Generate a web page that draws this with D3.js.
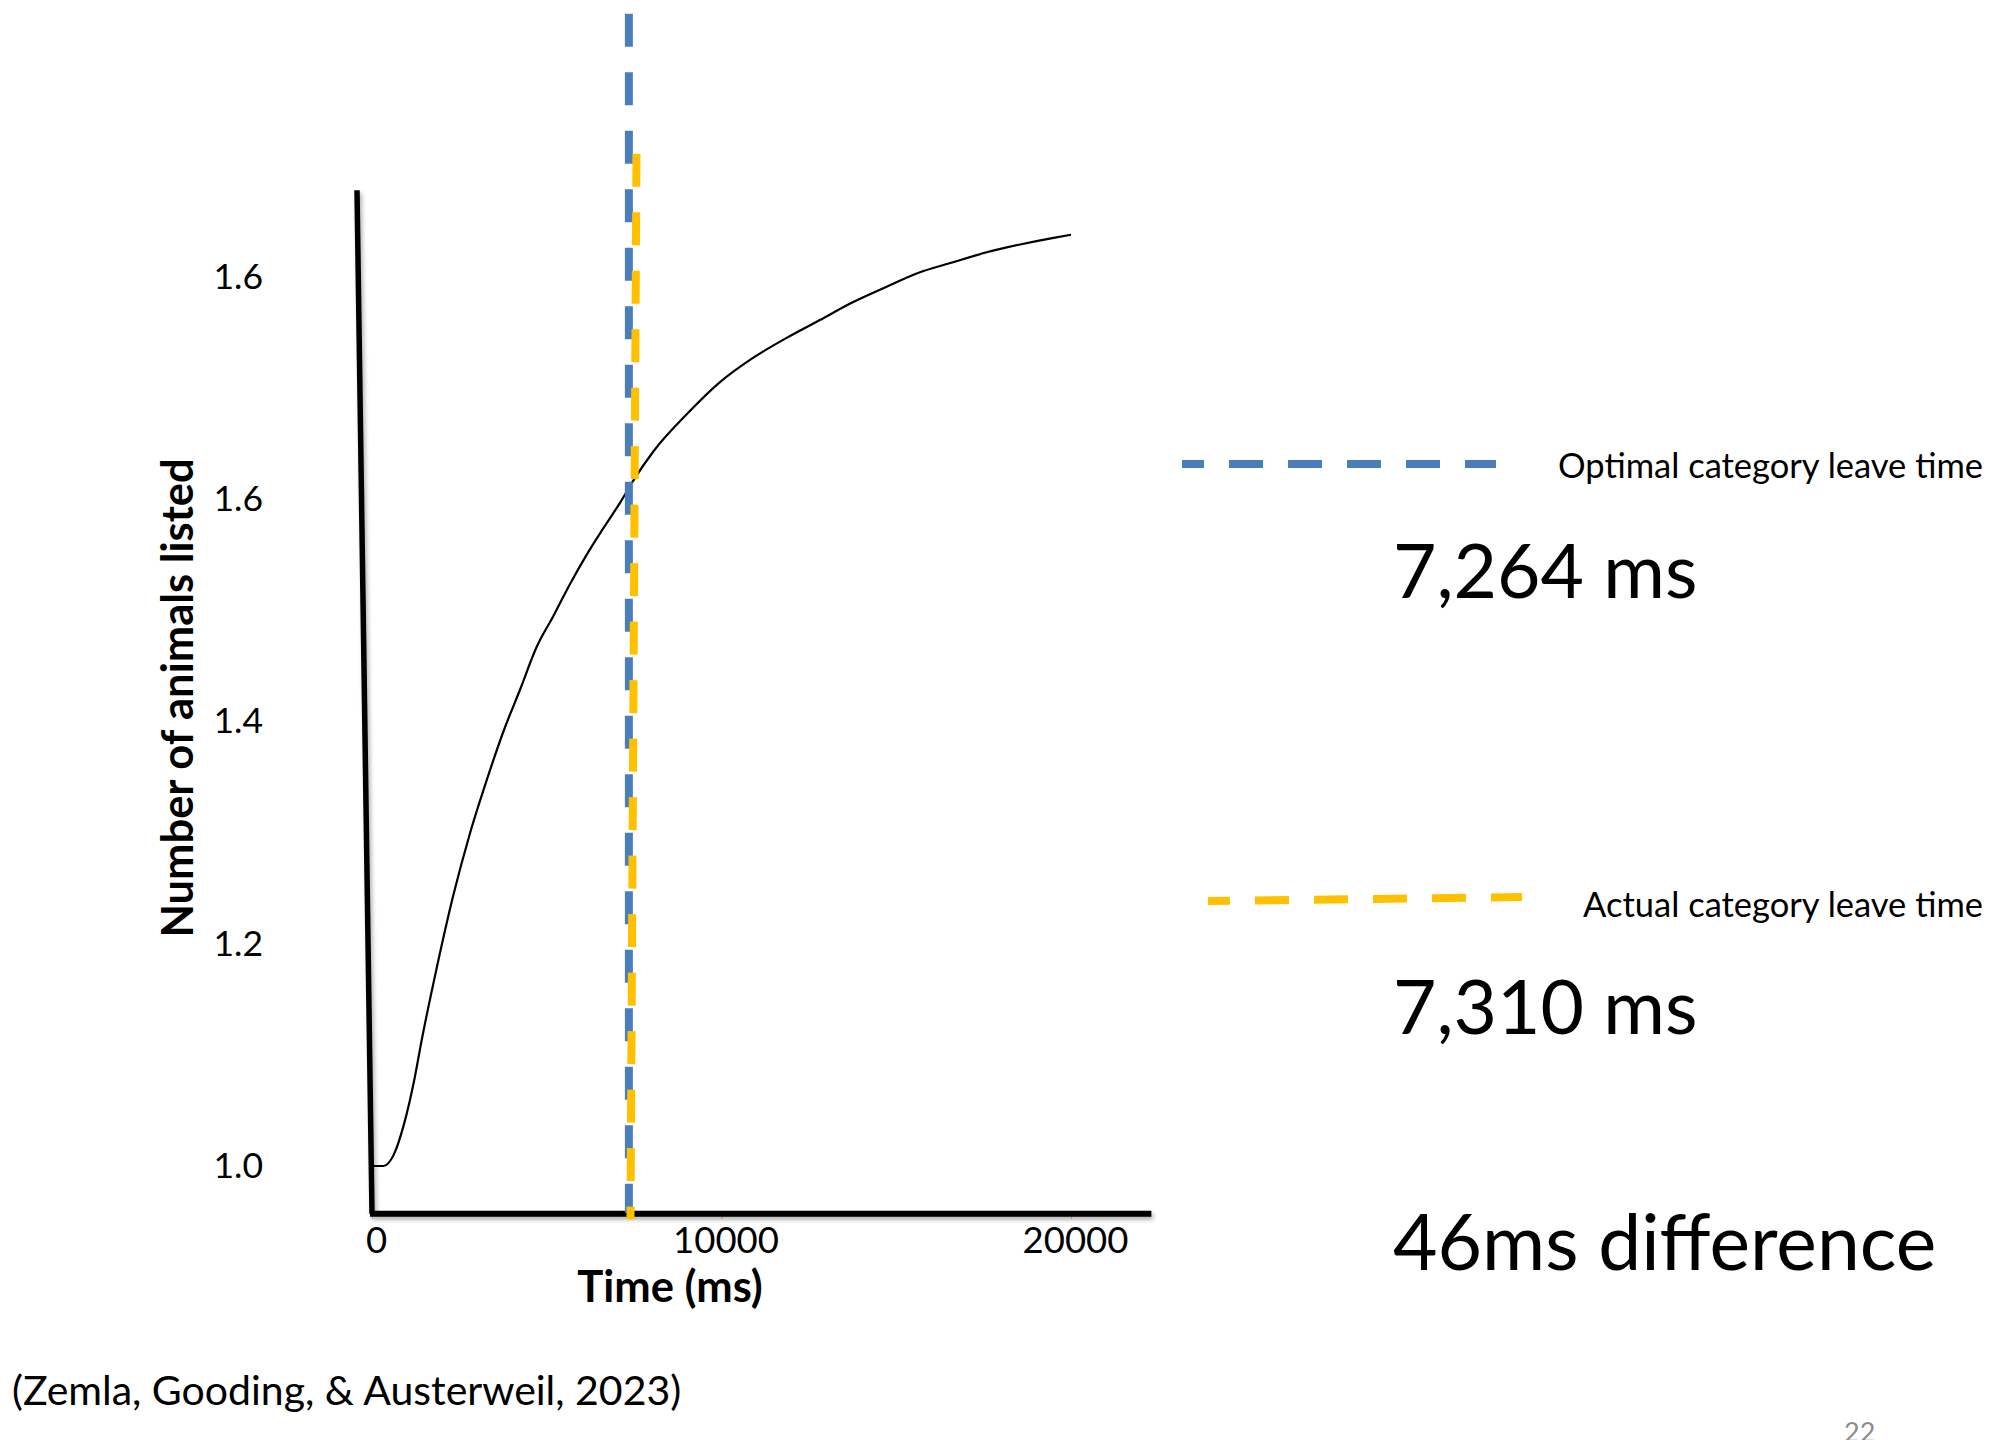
<!DOCTYPE html>
<html>
<head>
<meta charset="utf-8">
<script src="https://cdn.jsdelivr.net/npm/d3@7"></script>
<style>
  body { margin: 0; background: #fff; }
  svg { display: block; }
  text { font-family: Lato, "Open Sans", sans-serif; fill: #000; }
</style>
</head>
<body>
<svg class="leavechart" width="1996" height="1440"></svg>
<script>
// curve: time (ms) vs expected number of animals listed
const timeMs = [0, 330, 620, 910, 1200, 1420, 1850, 2330, 2800, 3280, 3760, 4240, 4710,
    5190, 5670, 6140, 6620, 7100, 7480, 8050, 8990, 9940, 10890, 11850, 12800, 13740,
    14710, 15660, 16600, 17560, 18510, 19460, 20000];
const animalsListed = [1.000, 1.000, 1.010, 1.037, 1.076, 1.113, 1.178, 1.244, 1.299, 1.347,
    1.391, 1.429, 1.467, 1.495, 1.524, 1.550, 1.574, 1.597, 1.617, 1.643, 1.676, 1.705,
    1.727, 1.745, 1.761, 1.777, 1.791, 1.804, 1.813, 1.822, 1.829, 1.835, 1.838];

const xTickValues = [0, 10000, 20000];
const xTickLabels = ["0", "10000", "20000"];
const yTickValues = [1.0, 1.2, 1.4, 1.6, 1.8];
const yTickLabels = ["1.0", "1.2", "1.4", "1.6", "1.6"];   // as printed on the slide

const leaveTimes = [7264, 7310];
const leaveNames = ["Optimal category leave time", "Actual category leave time"];
const leaveValues = ["7,264 ms", "7,310 ms"];
const leaveColours = ["#4a7ebb", "#ffc000"];
const leaveSpan = [[2.037, 0.958], [1.911, 0.952]];   // top / bottom of each dashed line, in y units
const differenceText = "46ms difference";
const citation = "(Zemla, Gooding, & Austerweil, 2023)";
const pageNumber = "22";

const xAxisEnd = 22300;
const yAxisSpan = [0.957, 1.878];

(function leaveTimeChart() {
    var svg = d3.select("svg.leavechart");

    svg.append("rect").attr("width", 1996).attr("height", 1440).attr("fill", "#fff");

    var defs = svg.append("defs");
    defs.append("filter").attr("id", "shadow")
        .attr("x", "-20%").attr("y", "-20%").attr("width", "140%").attr("height", "140%")
        .append("feDropShadow")
        .attr("dx", 2).attr("dy", 3).attr("stdDeviation", 2)
        .attr("flood-color", "#000").attr("flood-opacity", 0.3);

    var x = d3.scaleLinear().domain([0, 20000]).range([372, 1071]);
    var y = d3.scaleLinear().domain([1.0, 1.8]).range([1166, 277]);

    // x tick labels
    var xAxis = svg.append("g")
        .attr("transform", "translate(0," + y(yAxisSpan[0]) + ")")
        .call(d3.axisBottom(x)
            .tickValues(xTickValues)
            .tickFormat(function(d, i) { return xTickLabels[i]; })
            .tickSizeInner(5).tickSizeOuter(0).tickPadding(8));
    xAxis.select(".domain").remove();
    xAxis.selectAll("line").attr("stroke", "#bbb");
    xAxis.selectAll("text")
        .attr("dx", 4)
        .attr("dy", "0.71em")
        .style("font-size", "36.5px")
        .style("font-family", "Lato, sans-serif")
        .attr("fill", "#000");

    // y tick labels
    var yAxis = svg.append("g")
        .attr("transform", "translate(263,0)")
        .call(d3.axisLeft(y)
            .tickValues(yTickValues)
            .tickFormat(function(d, i) { return yTickLabels[i]; })
            .tickSize(0).tickPadding(0));
    yAxis.select(".domain").remove();
    yAxis.selectAll("text")
        .style("font-size", "35.5px")
        .style("font-family", "Lato, sans-serif")
        .attr("fill", "#000");

    // hand drawn axes (the y one leans a little)
    var axes = svg.append("g").attr("filter", "url(#shadow)");
    axes.append("line")
        .attr("x1", x(0) - 15).attr("y1", y(yAxisSpan[1]))
        .attr("x2", x(0)).attr("y2", y(yAxisSpan[0]))
        .attr("stroke", "#000").attr("stroke-width", 5.5);
    axes.append("line")
        .attr("x1", x(0) - 2).attr("y1", y(yAxisSpan[0]))
        .attr("x2", x(xAxisEnd)).attr("y2", y(yAxisSpan[0]))
        .attr("stroke", "#000").attr("stroke-width", 6);

    // curve
    var line = d3.line()
        .x(function(d, i) { return x(timeMs[i]); })
        .y(function(d) { return y(d); })
        .curve(d3.curveMonotoneX);
    svg.append("path")
        .datum(animalsListed)
        .attr("fill", "none")
        .attr("stroke", "#000")
        .attr("stroke-width", 2.2)
        .attr("stroke-linejoin", "round")
        .attr("d", line);

    // leave-time markers: blue straight, yellow leaning slightly to the right at the top
    var lean = [0, 6];
    leaveTimes.forEach(function(t, i) {
        svg.append("line")
            .attr("x1", x(t) + 3 + lean[i]).attr("y1", y(leaveSpan[i][0]))
            .attr("x2", x(t) + 3).attr("y2", y(leaveSpan[i][1]))
            .attr("stroke", leaveColours[i])
            .attr("stroke-width", 8)
            .attr("stroke-dasharray", "33 25.5");
    });

    // axis titles
    svg.append("text")
        .attr("transform", "translate(193,698) rotate(-90)")
        .attr("text-anchor", "middle")
        .style("font-size", "43.5px").style("font-weight", "bold")
        .text("Number of animals listed");
    svg.append("text")
        .attr("x", 670).attr("y", 1302)
        .attr("text-anchor", "middle")
        .style("font-size", "43.5px").style("font-weight", "bold")
        .text("Time (ms)");

    // legend block on the right
    var legendRows = [
        {x1: 1182, x2: 1496, y1: 464, y2: 464, labelY: 478, valueY: 598},
        {x1: 1208, x2: 1522, y1: 901, y2: 897, labelY: 917, valueY: 1034}
    ];
    legendRows.forEach(function(r, i) {
        svg.append("line")
            .attr("x1", r.x1).attr("y1", r.y1).attr("x2", r.x2).attr("y2", r.y2)
            .attr("stroke", leaveColours[i])
            .attr("stroke-width", 8)
            .attr("stroke-dasharray", "34 25")
            .attr("stroke-dashoffset", 12);
        svg.append("text")
            .attr("x", 1983).attr("y", r.labelY)
            .attr("text-anchor", "end")
            .style("font-size", "34.5px")
            .text(leaveNames[i]);
        svg.append("text")
            .attr("x", 1393).attr("y", r.valueY)
            .style("font-size", "75px")
            .text(leaveValues[i]);
    });

    svg.append("text")
        .attr("x", 1393).attr("y", 1270)
        .style("font-size", "76.8px")
        .text(differenceText);

    svg.append("text")
        .attr("x", 12).attr("y", 1405)
        .style("font-size", "41px")
        .text(citation);

    svg.append("text")
        .attr("x", 1844).attr("y", 1442)
        .style("font-size", "27px")
        .style("fill", "#8b8b8b")
        .text(pageNumber);
})();
</script>
</body>
</html>
